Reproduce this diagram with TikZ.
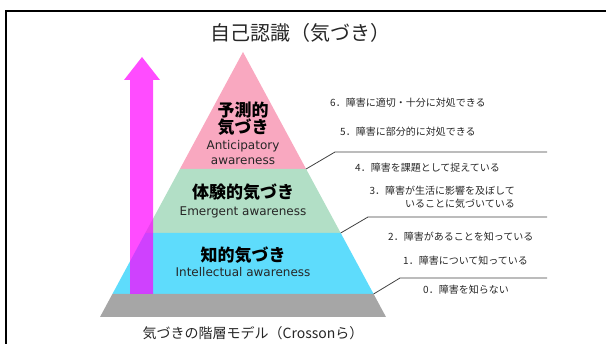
\documentclass[tikz,border=0pt]{standalone}
\usepackage{fontspec}
\setmainfont{DejaVu Sans}
\newfontfamily\jp{Noto Sans CJK JP}
\definecolor{pinkL}{HTML}{F9A8C0}
\definecolor{greenL}{HTML}{B2DFC6}
\definecolor{cyanL}{HTML}{5EDCFC}
\definecolor{grayL}{HTML}{A6A6A6}
\definecolor{mag}{RGB}{255,0,255}
\definecolor{txt}{HTML}{262626}
\definecolor{lineC}{HTML}{404040}
\tikzset{
  lvl/.style={fill=#1, draw=none},
  bigjp/.style={font=\jp\bfseries\fontsize{17}{17}\selectfont, text=black, inner sep=0pt, align=center},
  eng/.style={font=\fontsize{12}{15}\selectfont, text=txt, inner sep=0pt, align=center},
  item/.style={font=\jp\fontsize{10}{13}\selectfont, text=txt, inner sep=0pt, anchor=west},
  conn/.style={draw=lineC, line width=0.8pt},
}
\begin{document}
\begin{tikzpicture}[x=1pt,y=-1pt]
\useasboundingbox (0,0) rectangle (606,344);
% frame
\draw[line width=2.2pt, black] (6,344) -- (6,11) -- (606,11);
% title
\node[font=\jp\fontsize{20}{20}\selectfont, text=txt, inner sep=0pt] (title) at (300,33) {自己認識（気づき）};
% pyramid layers
\fill[lvl=pinkL] (243,52) -- (306.1,169) -- (179.9,169) -- cycle;
\fill[lvl=greenL] (179.9,169) -- (306.1,169) -- (340.7,233) -- (145.3,233) -- cycle;
\fill[lvl=cyanL] (145.3,233) -- (340.7,233) -- (373.6,294) -- (112.4,294) -- cycle;
\fill[lvl=grayL] (112.4,294) -- (373.6,294) -- (386,317) -- (100,317) -- cycle;
% arrow
\fill[mag, opacity=0.7] (130,294) -- (130,80) -- (124,80) -- (142,57) -- (160,80) -- (153,80) -- (153,294) -- cycle;
% labels in pyramid
\node[bigjp] (l3a) at (243,118.5) {予測的\\気づき};
\node[eng] (l3b) at (243,152.5) {Anticipatory\\awareness};
\node[bigjp] (l2a) at (243,192) {体験的気づき};
\node[eng] (l2b) at (243,212) {Emergent awareness};
\node[bigjp] (l1a) at (243,255) {知的気づき};
\node[eng] (l1b) at (243,272) {Intellectual awareness};
\node[font=\jp\fontsize{14}{14}\selectfont, text=txt, inner sep=0pt] (cap) at (253,333) {気づきの階層モデル（Crossonら）};
% connectors
\coordinate (c1) at (306.1,169); \coordinate (e1) at (335,152); \coordinate (r1) at (547,152);
\coordinate (c2) at (340.7,233); \coordinate (e2) at (368,217); \coordinate (r2) at (547,217);
\coordinate (c3) at (373.6,294); \coordinate (e3) at (400,278); \coordinate (r3) at (547,278);
\draw[conn] (c1) -- (e1) -- (r1);
\draw[conn] (c2) -- (e2) -- (r2);
\draw[conn] (c3) -- (e3) -- (r3);
% items
\node[item] (i6) at (330,103) {6．障害に適切・十分に対処できる};
\node[item] (i5) at (340,132) {5．障害に部分的に対処できる};
\node[item] (i4) at (355,168) {4．障害を課題として捉えている};
\node[item, anchor=north east, align=right] (i3) at (515,186) {3．障害が生活に影響を及ぼして\\いることに気づいている};
\node[item] (i2) at (388,237) {2．障害があることを知っている};
\node[item] (i1) at (403,261) {1．障害について知っている};
\node[item] (i0) at (423,290) {0．障害を知らない};
\end{tikzpicture}
\end{document}
